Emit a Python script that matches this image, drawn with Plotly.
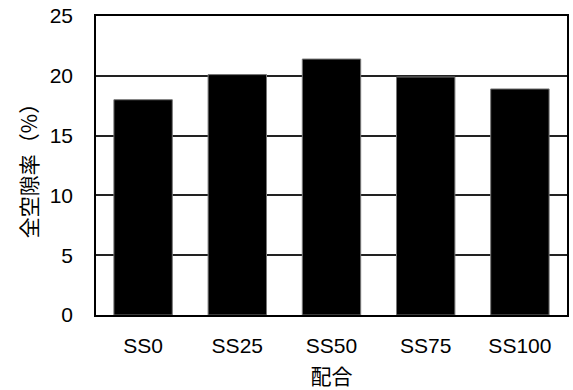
import plotly.graph_objects as go

# Total void ratio for each mix
mixes = ["SS0", "SS25", "SS50", "SS75", "SS100"]
void_ratio = [18.0, 20.1, 21.4, 19.9, 18.9]

y_ticks = [0, 5, 10, 15, 20, 25]

font_main = "Liberation Sans, Arial, sans-serif"
font_cjk = "Noto Sans CJK JP, Liberation Sans, sans-serif"

fig = go.Figure(
    go.Bar(
        x=mixes,
        y=void_ratio,
        width=0.62,
        marker=dict(color="#000000", line=dict(color="#777777", width=1)),
    )
)

fig.update_layout(
    width=573,
    height=390,
    margin=dict(l=96, r=4, t=15, b=75),
    paper_bgcolor="white",
    plot_bgcolor="white",
    showlegend=False,
    font=dict(family=font_main, size=21, color="#000000"),
)

fig.update_xaxes(
    type="category",
    showline=True,
    linecolor="#000000",
    linewidth=1.5,
    mirror=True,
    showgrid=False,
    ticks="",
    ticklabelstandoff=11,
    tickfont=dict(family=font_main, size=21),
    title=dict(text="配合", font=dict(family=font_cjk, size=21), standoff=14),
)

fig.update_yaxes(
    range=[0, 25],
    tickvals=y_ticks,
    showline=True,
    linecolor="#000000",
    linewidth=1.5,
    mirror=True,
    showgrid=True,
    gridcolor="#222222",
    gridwidth=1.5,
    zeroline=False,
    ticks="",
    ticklabelstandoff=17,
    tickfont=dict(family=font_main, size=21),
    title=dict(text="全空隙率（%）", font=dict(family=font_cjk, size=21), standoff=6),
)

fig.write_html("out.html")
